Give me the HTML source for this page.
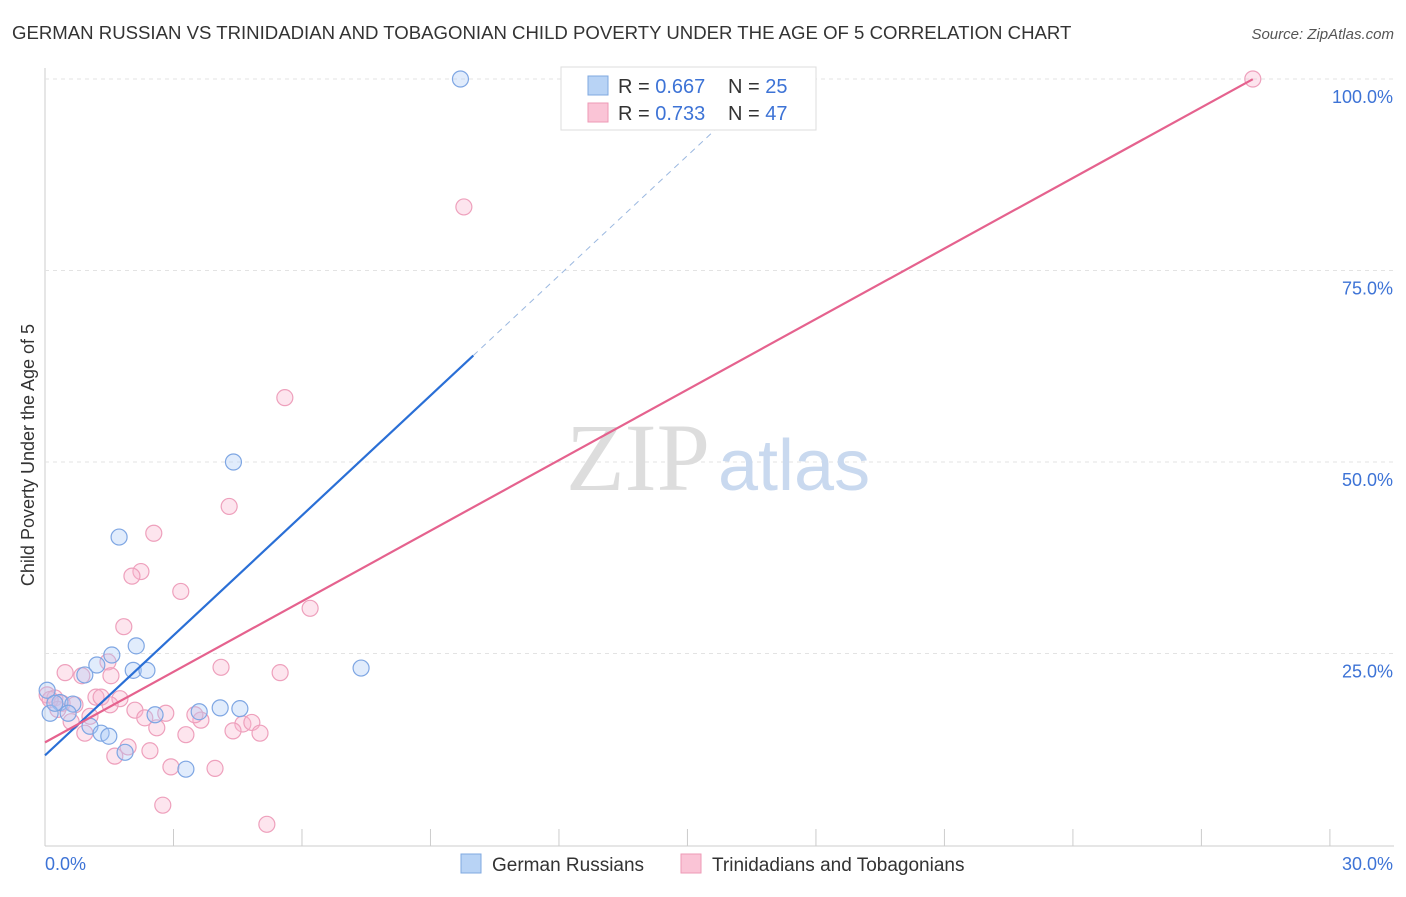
<!DOCTYPE html>
<html><head><meta charset="utf-8"><style>
body{margin:0;background:#fff;font-family:"Liberation Sans",sans-serif;}
</style></head><body>
<svg width="1406" height="892" xmlns="http://www.w3.org/2000/svg">
<text x="12" y="39" font-size="18.6" fill="#333">GERMAN RUSSIAN VS TRINIDADIAN AND TOBAGONIAN CHILD POVERTY UNDER THE AGE OF 5 CORRELATION CHART</text>
<text x="1394" y="39" font-size="15" fill="#555" font-style="italic" text-anchor="end">Source: ZipAtlas.com</text>
<g id="grid"></g>
<text x="710" y="490" font-size="96" fill="#ddd" text-anchor="end" font-family="Liberation Serif">ZIP</text>
<text x="718" y="490" font-size="72" fill="#c9d9ef">atlas</text>
<text transform="translate(34,455) rotate(-90)" font-size="18" fill="#333" text-anchor="middle">Child Poverty Under the Age of 5</text>
<g id="marks"></g>
<g>
<rect x="561" y="67" width="255" height="63" fill="#fff" stroke="#ddd"/>
<rect x="588" y="76" width="20" height="19" fill="#b8d3f5" stroke="#7fa8e0"/>
<rect x="588" y="103" width="20" height="19" fill="#fac4d6" stroke="#ee9ab6"/>
<text x="618" y="93" font-size="20" fill="#333">R = <tspan fill="#3d73d6">0.667</tspan></text>
<text x="728" y="93" font-size="20" fill="#333">N = <tspan fill="#3d73d6">25</tspan></text>
<text x="618" y="120" font-size="20" fill="#333">R = <tspan fill="#3d73d6">0.733</tspan></text>
<text x="728" y="120" font-size="20" fill="#333">N = <tspan fill="#3d73d6">47</tspan></text>
</g>
<g>
<rect x="461" y="854" width="20" height="19" fill="#b8d3f5" stroke="#7fa8e0"/>
<text x="492" y="871" font-size="19" fill="#333">German Russians</text>
<rect x="681" y="854" width="20" height="19" fill="#fac4d6" stroke="#ee9ab6"/>
<text x="712" y="871" font-size="19" fill="#333">Trinidadians and Tobagonians</text>
</g>
</svg>
<script>
const xTicks=[0,3,6,9,12,15,18,21,24,27,30];
const yTicks=[25,50,75,100];
const blueX=[9.7,4.4,1.73,2.13,1.56,1.21,0.93,2.06,2.38,7.38,0.05,0.35,0.65,0.12,0.54,1.05,1.31,1.49,2.57,3.6,4.09,4.55,1.87,3.29,0.23];
const blueY=[100,50,40.2,26,24.8,23.5,22.2,22.8,22.8,23.1,20.2,18.6,18.4,17.2,17.2,15.5,14.6,14.2,17,17.4,17.9,17.8,12.1,9.9,18.5];
const pinkX=[28.2,9.78,5.6,4.3,2.54,2.24,2.03,3.17,6.19,1.84,1.47,4.11,5.49,0.47,0.86,1.54,1.19,1.31,1.75,0.05,0.23,0.4,0.7,1.05,2.1,2.82,2.33,3.64,2.61,4.62,4.83,4.39,5.02,3.29,0.93,0.61,1.94,2.45,1.63,2.94,3.97,2.75,5.18,0.12,0.30,1.52,3.5];
const pinkY=[100,83.3,58.4,44.2,40.7,35.7,35.1,33.1,30.9,28.5,23.9,23.2,22.5,22.5,22.1,22.1,19.3,19.3,19.1,19.6,19.2,18.5,18.3,16.8,17.6,17.2,16.6,16.3,15.3,15.8,16,14.9,14.6,14.4,14.6,16.1,12.8,12.3,11.6,10.2,10,5.2,2.7,19,17.7,18.3,17];
const blueFit=[10,5.22,11.7];
const pinkFit=[28.2,3.07,13.4];
const X=v=>45+v*42.83, Y=v=>845-v*7.66;
const NS="http://www.w3.org/2000/svg";
function mk(t,a,p){const e=document.createElementNS(NS,t);for(const k in a)e.setAttribute(k,a[k]);p.appendChild(e);return e;}
const g=document.getElementById('grid'), m=document.getElementById('marks');
let e=mk('line',{x1:45,y1:68,x2:45,y2:846,stroke:'#ccc'},g);


e=mk('line',{x1:45,y1:846,x2:1394,y2:846,stroke:'#ccc'},g);


xTicks.forEach(t=>{const l=mk('line',{x1:X(t),y1:829,x2:X(t),y2:846,stroke:'#ccc'},g);

});
yTicks.forEach(t=>{const l=mk('line',{x1:45,y1:Y(t),x2:1394,y2:Y(t),stroke:'#e3e3e3','stroke-dasharray':'4,4'},g);


const tx=mk('text',{x:1393,y:Y(t)+24,'font-size':18,fill:'#3d73d6','text-anchor':'end'},g);tx.textContent=t.toFixed(1)+'%';

});
let t1=mk('text',{x:45,y:870,'font-size':18,fill:'#3d73d6'},g);t1.textContent=xTicks[0].toFixed(1)+'%';


let t2=mk('text',{x:1393,y:870,'font-size':18,fill:'#3d73d6','text-anchor':'end'},g);t2.textContent=xTicks[xTicks.length-1].toFixed(1)+'%';


pinkX.forEach((x,i)=>{const c=mk('circle',{cx:X(x),cy:Y(pinkY[i]),r:8,fill:'rgba(248,180,205,0.35)',stroke:'#eea0bc','stroke-width':1.2},m);

});
blueX.forEach((x,i)=>{const c=mk('circle',{cx:X(x),cy:Y(blueY[i]),r:8,fill:'rgba(170,200,245,0.35)',stroke:'#7ea6e3','stroke-width':1.2},m);

});
const bx=blueFit[0], bxd=16;
e=mk('line',{x1:X(0),y1:Y(blueFit[2]),x2:X(bx),y2:Y(blueFit[2]+blueFit[1]*bx),stroke:'#2a6fd6','stroke-width':2.2},m);


e=mk('line',{x1:X(bx),y1:Y(blueFit[2]+blueFit[1]*bx),x2:X(bxd),y2:Y(blueFit[2]+blueFit[1]*bxd),stroke:'#9bb8e0','stroke-width':1,'stroke-dasharray':'6,5'},m);


e=mk('line',{x1:X(0),y1:Y(pinkFit[2]),x2:X(pinkFit[0]),y2:Y(pinkFit[2]+pinkFit[1]*pinkFit[0]),stroke:'#e5628e','stroke-width':2.2},m);


</script>
</body></html>
